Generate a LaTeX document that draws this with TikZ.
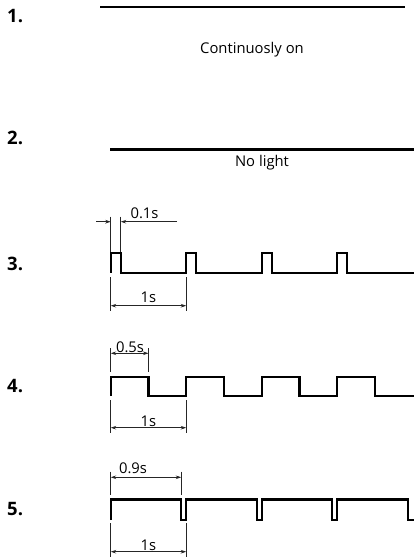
\documentclass[tikz,border=0pt]{standalone}
\usepackage{fontspec}
\setmainfont{Open Sans}
\usepackage{tikz}
\usetikzlibrary{arrows.meta}
\usetikzlibrary{calc}

\begin{document}
\begin{tikzpicture}[x=1pt,y=-1pt,>={Stealth[length=5.5pt,width=3.6pt]},
                    wave/.style={line width=2.4pt,line join=miter},
                    dim/.style={line width=0.8pt,black!85},
                    num/.style={font=\fontsize{18.5}{20}\selectfont\bfseries,anchor=west,inner sep=0pt},
                    lbl/.style={font=\fontsize{14.8}{16}\selectfont,inner sep=0pt}]

    \useasboundingbox (0,0) rectangle (414,559);

    % row numbers
    \node[num] (n1) at (7,16) {1.};
    \node[num] (n2) at (7,138) {2.};
    \node[num] (n3) at (7,263.5) {3.};
    \node[num] (n4) at (7,386) {4.};
    \node[num] (n5) at (7,509) {5.};

    % 1. always on
    \coordinate (on a) at (100,7);
    \coordinate (on b) at (405,7);
    \draw[wave] (on a) -- (on b);
    \node[lbl] (on) at (252,50) {Continuosly on};

    % 2. off
    \coordinate (off a) at (110,149.5);
    \coordinate (off b) at (414,149.5);
    \draw[wave] (off a) -- (off b);
    \node[lbl] (off) at (262,163) {No light};

    % 3. short flash, period 75.5
    \draw[wave] (110.7,272.7) foreach \i in {0,...,3} {
        -- ++(0,-20) -- ++(10,0) -- ++(0,20) -- ++(65.5,0)} -- (414,272.7);

    \coordinate (s3a) at (110.7,216.7);
    \coordinate (s3b) at (120.7,216.7);
    \coordinate (s3l) at (96,221.7);
    \coordinate (s3r) at (177,221.7);
    \draw[dim] (s3a) -- (110.7,252);
    \draw[dim] (s3b) -- (120.7,252);
    \draw[dim,->] (s3l) -- (s3a |- s3l);
    \draw[dim,->] (s3r) -- (s3b |- s3r);
    \node[lbl,anchor=base] (t3) at (144.5,218) {0.1s};

    \coordinate (p3a) at (110.7,277);
    \coordinate (p3b) at (186.2,277);
    \draw[dim] (p3a) -- ++(0,34);
    \draw[dim] (p3b) -- ++(0,34);
    \draw[dim,<->] ($(p3a)+(0,28.7)$) -- ($(p3b)+(0,28.7)$);
    \node[lbl,anchor=base] (T3) at (148.5,302) {1s};

    % 4. half on
    \draw[wave] (110.7,396) foreach \i in {0,...,3} {
        -- ++(0,-19.3) -- ++(37.75,0) -- ++(0,19.3) -- ++(37.75,0)} -- (414,396);

    \coordinate (s4a) at (110.7,348);
    \coordinate (s4b) at (148.45,348);
    \draw[dim] (s4a) -- ++(0,24);
    \draw[dim] (s4b) -- ++(0,24);
    \draw[dim,<->] ($(s4a)+(0,5.3)$) -- ($(s4b)+(0,5.3)$);
    \node[lbl,anchor=base] (t4) at (130,352) {0.5s};

    \coordinate (p4a) at (110.7,400);
    \coordinate (p4b) at (186.2,400);
    \draw[dim] (p4a) -- ++(0,33);
    \draw[dim] (p4b) -- ++(0,33);
    \draw[dim,<->] ($(p4a)+(0,27.7)$) -- ($(p4b)+(0,27.7)$);
    \node[lbl,anchor=base] (T4) at (148.5,426) {1s};

    % 5. short off
    \draw[wave] (110.7,520) -- ++(0,-20.7) foreach \i in {0,...,2} {
        -- ++(70.5,0) -- ++(0,20.7) -- ++(5,0) -- ++(0,-20.7)}
        -- ++(70.5,0) -- ++(0,20.7) -- (414,520);

    \coordinate (s5a) at (110.7,471.7);
    \coordinate (s5b) at (181.2,471.7);
    \draw[dim] (s5a) -- ++(0,23.3);
    \draw[dim] (s5b) -- ++(0,23.3);
    \draw[dim,<->] ($(s5a)+(0,5.6)$) -- ($(s5b)+(0,5.6)$);
    \node[lbl,anchor=base] (t5) at (133,473.3) {0.9s};

    \coordinate (p5a) at (110.7,523);
    \coordinate (p5b) at (186.2,523);
    \draw[dim] (p5a) -- ++(0,34);
    \draw[dim] (p5b) -- ++(0,34);
    \draw[dim,<->] ($(p5a)+(0,28.7)$) -- ($(p5b)+(0,28.7)$);
    \node[lbl,anchor=base] (T5) at (148.5,550) {1s};
\end{tikzpicture}
\end{document}
